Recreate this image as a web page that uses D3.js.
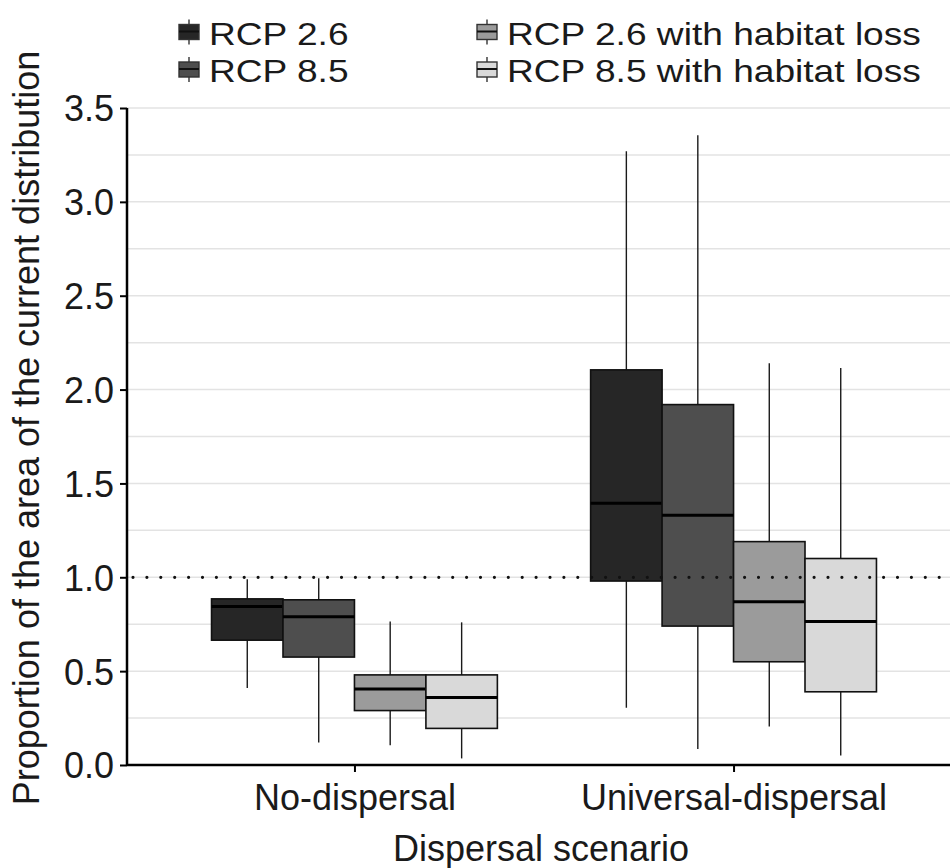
<!DOCTYPE html>
<html>
  <head>
    <meta charset="UTF-8" />
    <style>
      body { margin: 0; background: #fff; }
      svg { display: block; font-family: "Liberation Sans", Arial, sans-serif; }
    </style>
  </head>
  <body>
    <svg></svg>
    <script src="https://d3js.org/d3.v7.min.js"></script>
    <script>
      // data
      const scenarios = ["No-dispersal", "Universal-dispersal"];
      const series = ["RCP 2.6", "RCP 8.5", "RCP 2.6 with habitat loss", "RCP 8.5 with habitat loss"];
      const fills = ["#262626", "#4e4e4e", "#9b9b9b", "#d9d9d9"];
      // [scenario][series]
      const lows = [[0.41, 0.12, 0.105, 0.035], [0.305, 0.085, 0.205, 0.05]];
      const q1s = [[0.665, 0.575, 0.29, 0.195], [0.98, 0.74, 0.55, 0.39]];
      const medians = [[0.845, 0.79, 0.405, 0.36], [1.395, 1.33, 0.87, 0.765]];
      const q3s = [[0.885, 0.88, 0.48, 0.48], [2.105, 1.92, 1.19, 1.1]];
      const highs = [[0.99, 0.995, 0.765, 0.76], [3.27, 3.355, 2.14, 2.115]];
      const yTicks = [0, 0.5, 1, 1.5, 2, 2.5, 3, 3.5];
      const refLine = 1;

      let width = 950,
        height = 868;
      let svg = d3.select("svg").attr("width", width).attr("height", height);

      let plotLeft = 127, plotRight = 961, plotTop = 108, plotBottom = 765;

      let x = d3.scalePoint().domain(scenarios).range([plotLeft, plotRight]).padding(0.6);
      let dodge = d3
        .scaleBand()
        .domain(series)
        .range([-0.377 * x.step(), 0.377 * x.step()])
        .padding(0);
      let y = d3.scaleLinear().domain([0, 3.5]).range([plotBottom, plotTop]);

      // gridlines, major and minor
      svg
        .append("g")
        .selectAll("line")
        .data(d3.range(0.25, 3.51, 0.25))
        .join("line")
        .attr("x1", plotLeft)
        .attr("x2", width)
        .attr("y1", (d) => y(d))
        .attr("y2", (d) => y(d))
        .attr("stroke", "#e3e3e3")
        .attr("stroke-width", 1.5);

      let boxes = [];
      scenarios.forEach((s, i) => {
        series.forEach((k, j) => {
          boxes.push({
            scenario: s, key: k, color: fills[j],
            lo: lows[i][j], q1: q1s[i][j], med: medians[i][j], q3: q3s[i][j], hi: highs[i][j],
          });
        });
      });

      let bw = dodge.bandwidth();
      let g = svg
        .append("g")
        .selectAll("g")
        .data(boxes)
        .join("g")
        .attr("transform", (d) => `translate(${x(d.scenario) + dodge(d.key)},0)`);

      g.append("line")
        .attr("x1", bw / 2)
        .attr("x2", bw / 2)
        .attr("y1", (d) => y(d.lo))
        .attr("y2", (d) => y(d.hi))
        .attr("stroke", "#1a1a1a")
        .attr("stroke-width", 1.4);

      g.append("rect")
        .attr("x", 0)
        .attr("width", bw)
        .attr("y", (d) => y(d.q3))
        .attr("height", (d) => y(d.q1) - y(d.q3))
        .attr("fill", (d) => d.color)
        .attr("stroke", "#111")
        .attr("stroke-width", 1.6);

      g.append("line")
        .attr("x1", 0)
        .attr("x2", bw)
        .attr("y1", (d) => y(d.med))
        .attr("y2", (d) => y(d.med))
        .attr("stroke", "#000")
        .attr("stroke-width", 3);

      // dotted reference line at 1
      svg
        .append("line")
        .attr("x1", plotLeft + 6)
        .attr("x2", width)
        .attr("y1", y(refLine))
        .attr("y2", y(refLine))
        .attr("stroke", "#111")
        .attr("stroke-width", 3.2)
        .attr("stroke-linecap", "round")
        .attr("stroke-dasharray", "0 13.9");

      // axes
      let yAxis = svg
        .append("g")
        .attr("transform", `translate(${plotLeft},0)`)
        .call(d3.axisLeft(y).tickValues(yTicks).tickFormat(d3.format(".1f")).tickSize(7).tickPadding(6));
      yAxis.select(".domain").attr("stroke-width", 2.5).attr("d", `M0,${plotTop}V${plotBottom}`);
      yAxis.selectAll(".tick line").attr("stroke-width", 2);
      yAxis.selectAll(".tick text").attr("font-size", 36).attr("fill", "#1a1a1a").attr("dy", "0.36em");

      let xAxis = svg
        .append("g")
        .attr("transform", `translate(0,${plotBottom})`)
        .call(d3.axisBottom(x).tickSize(7).tickPadding(6));
      xAxis.select(".domain").attr("stroke-width", 2.5).attr("d", `M${plotLeft},0H${width}`);
      xAxis.selectAll(".tick line").attr("stroke-width", 2);
      xAxis.selectAll(".tick text").attr("font-size", 36).attr("fill", "#1a1a1a").attr("dy", 0).attr("y", 45);

      svg
        .append("text")
        .attr("x", (plotLeft + plotRight) / 2 - 3)
        .attr("y", 861)
        .attr("text-anchor", "middle")
        .attr("font-size", 36)
        .attr("fill", "#1a1a1a")
        .text("Dispersal scenario");

      svg
        .append("text")
        .attr("transform", "translate(39,428) rotate(-90)")
        .attr("text-anchor", "middle")
        .attr("font-size", 36)
        .attr("fill", "#1a1a1a")
        .text("Proportion of the area of the current distribution");

      // legend, two columns; text is a bit wide in the original, so stretch it
      let legendPos = [
        [178, 32.5], [178, 70], [476, 32.5], [476, 70],
      ];
      let leg = svg
        .append("g")
        .selectAll("g")
        .data(series)
        .join("g")
        .attr("transform", (d, i) => `translate(${legendPos[i][0]},${legendPos[i][1]})`);
      leg.append("line")
        .attr("x1", 11).attr("x2", 11).attr("y1", -13).attr("y2", 12)
        .attr("stroke", "#333").attr("stroke-width", 1.4);
      leg.append("rect")
        .attr("x", 1).attr("y", -8).attr("width", 20).attr("height", 15)
        .attr("fill", (d, i) => fills[i])
        .attr("stroke", "#333").attr("stroke-width", 1.4);
      leg.append("line")
        .attr("x1", 1).attr("x2", 21).attr("y1", -1).attr("y2", -1)
        .attr("stroke", "#111").attr("stroke-width", 2);
      leg.append("text")
        .attr("transform", "translate(31,12) scale(1.16,1)")
        .attr("font-size", 32)
        .attr("fill", "#1a1a1a")
        .text((d) => d);
    </script>
  </body>
</html>
